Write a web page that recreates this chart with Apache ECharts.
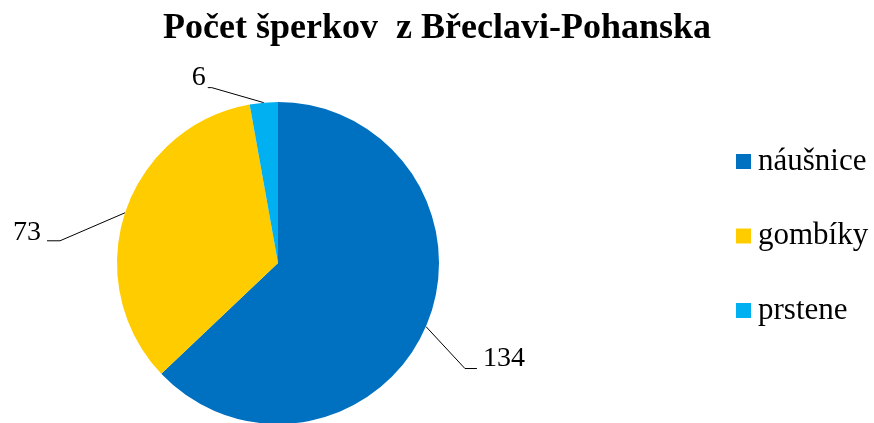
<!DOCTYPE html>
<html>
<head>
<meta charset="utf-8">
<script src="https://cdn.jsdelivr.net/npm/echarts@6/dist/echarts.min.js"></script>
<style>
  html, body { margin: 0; padding: 0; background: #fff; }
  #chart { width: 874px; height: 423px; }
</style>
</head>
<body>
<div id="chart"></div>
<script>
// Jewellery counts by type
const categories = ['náušnice', 'gombíky', 'prstene'];
const counts = [134, 73, 6];
const colors = ['#0070C0', '#FFCC00', '#00B0F0'];
const titleText = 'Počet šperkov  z Břeclavi-Pohanska';

// Leader-line shape per slice, relative to the slice's outer anchor point
const leaders = [
  { elbow: [39, 42], end: [51, 42], label: [57, 32], align: 'left' },
  { elbow: [-65, 28], end: [-78, 28], label: [-84, 20], align: 'right' },
  { elbow: [-52, -15], end: [-56, -15], label: [-58, -25], align: 'right' }
];

const serif = '"Liberation Serif", "Times New Roman", serif';

const chart = echarts.init(document.getElementById('chart'));
chart.setOption({
  animation: false,
  title: {
    text: titleText,
    left: 'center',
    top: 6,
    textStyle: { fontFamily: serif, fontWeight: 'bold', fontSize: 36, color: '#000' }
  },
  legend: {
    orient: 'vertical',
    left: 731,
    top: 141,
    padding: 5,
    itemWidth: 15,
    itemHeight: 15,
    itemGap: 43.5,
    icon: 'rect',
    textStyle: { fontFamily: serif, fontSize: 31, color: '#000', padding: [0, 0, 0, 2] },
    data: categories
  },
  series: [{
    type: 'pie',
    center: [278, 263],
    radius: 161,
    startAngle: 90,
    clockwise: true,
    avoidLabelOverlap: false,
    data: categories.map((name, i) => ({ name, value: counts[i], itemStyle: { color: colors[i] } })),
    label: {
      show: true,
      formatter: '{c}',
      fontFamily: serif,
      fontSize: 28,
      color: '#000'
    },
    labelLine: {
      show: true,
      length: 20,
      length2: 10,
      lineStyle: { color: '#000', width: 1 }
    },
    labelLayout: function (params) {
      const a = params.labelLinePoints[0];
      const l = leaders[params.dataIndex];
      return {
        x: a[0] + l.label[0],
        y: a[1] + l.label[1],
        align: l.align,
        verticalAlign: 'middle',
        labelLinePoints: [
          [a[0], a[1]],
          [a[0] + l.elbow[0], a[1] + l.elbow[1]],
          [a[0] + l.end[0], a[1] + l.end[1]]
        ]
      };
    },
    emphasis: { disabled: true }
  }]
});
</script>
</body>
</html>
